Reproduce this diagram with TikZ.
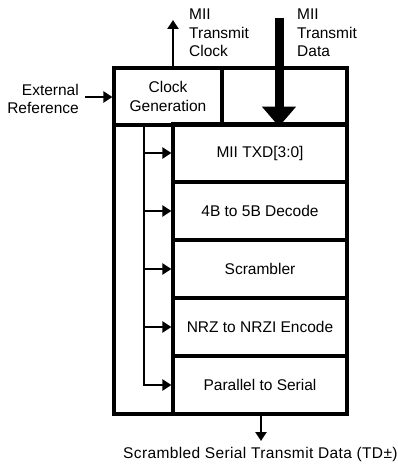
\documentclass[tikz,border=0pt]{standalone}
\usepackage{fontspec}
\setmainfont{Liberation Sans}
\usetikzlibrary{arrows.meta}
\begin{document}
\begin{tikzpicture}[x=1pt,y=-1pt,
  box/.style={draw, line width=3.2pt, inner sep=0, font=\fontsize{15.5}{18.5}\selectfont},
  stagebox/.style={box, minimum width=174pt, minimum height=58pt},
  arr/.style={line width=2.8pt, -{Triangle[length=9pt,width=11pt]}},
  bigarr/.style={line width=9pt, -{Triangle[length=20pt,width=33pt]}},
  lbl/.style={inner sep=0, font=\fontsize{15.5}{18.5}\selectfont}]
\useasboundingbox (0,0) rectangle (397,465);
% outer frame
\node[box, minimum width=233pt, minimum height=346pt] (outer) at (230.5,241) {};
% top row
\node[box, minimum width=108pt, minimum height=57pt, align=center] (clk) at (168,96.5) {Clock\\Generation};
\node[box, minimum width=125pt, minimum height=57pt] (datbox) at (284.5,96.5) {};
% stages
\node[stagebox] (s1) at (260,153) {MII TXD[3:0]};
\node[stagebox] (s2) at (260,211) {4B to 5B Decode};
\node[stagebox] (s3) at (260,269) {Scrambler};
\node[stagebox] (s4) at (260,327) {NRZ to NRZI Encode};
\node[stagebox] (s5) at (260,385) {Parallel to Serial};
% clock bus
\coordinate (bustop) at (144,125);
\draw[arr] (bustop) -- (s5.west -| bustop) -- (s5.west);
\draw[arr] (s1.west -| bustop) -- (s1.west);
\draw[arr] (s2.west -| bustop) -- (s2.west);
\draw[arr] (s3.west -| bustop) -- (s3.west);
\draw[arr] (s4.west -| bustop) -- (s4.west);
% clock out
\coordinate (clkout) at (173,20);
\draw[arr] (clkout |- outer.north) -- (clkout);
\node[lbl, align=left, anchor=north west] (clklbl) at (189,9) {MII\\Transmit\\Clock};
% data in
\coordinate (datain) at (279,18);
\draw[bigarr] (datain) -- (datain |- datbox.south);
\node[lbl, align=left, anchor=north west] (datlbl) at (297,9) {MII\\Transmit\\Data};
% external reference
\coordinate (extin) at (85,97);
\draw[arr] (extin) -- (extin -| outer.west);
\node[lbl, align=right, anchor=east] (extlbl) at (79,99) {External\\Reference};
% output
\coordinate (tdout) at (261,441);
\draw[arr] (tdout |- outer.south) -- (tdout);
\node[lbl, anchor=base west] (tdlbl) at (123,458) {\addfontfeature{LetterSpace=2.4}Scrambled Serial Transmit Data (TD±)};
\end{tikzpicture}
\end{document}
